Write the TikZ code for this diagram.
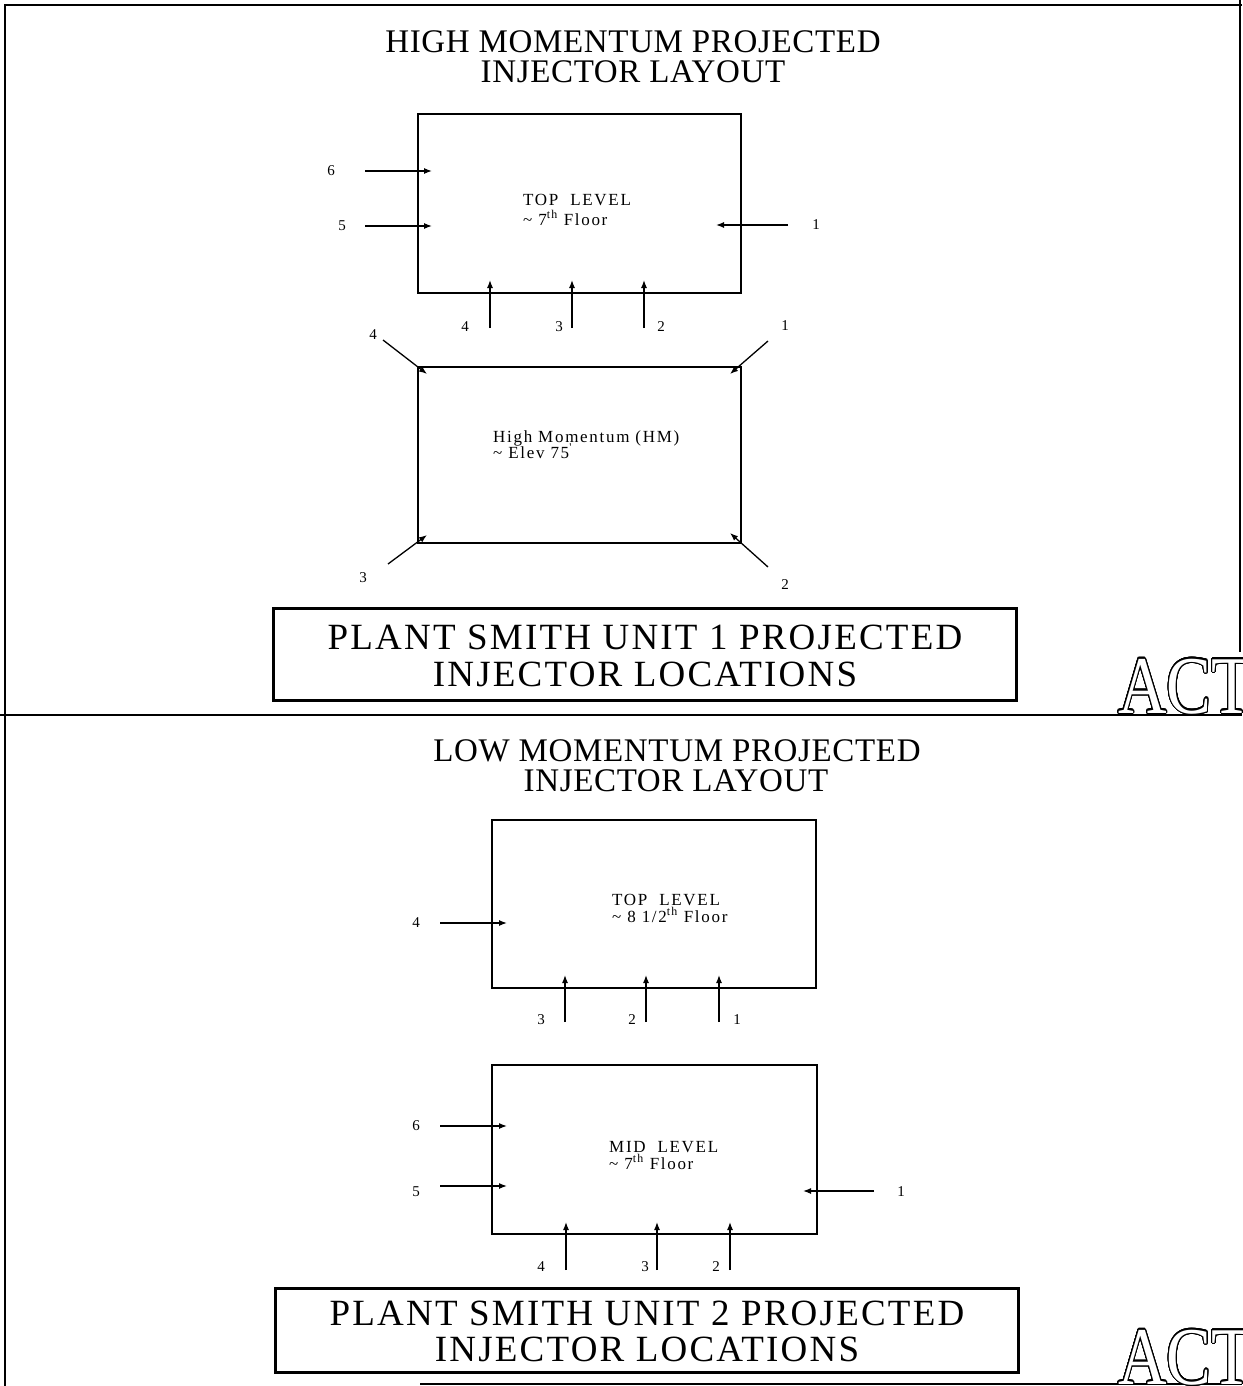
\documentclass[tikz,border=0pt]{standalone}
\usepackage{fontspec}
\setmainfont{Liberation Serif}
\newfontfamily\ttlfont[LetterSpace=2]{Liberation Serif}
\newfontfamily\bigfont[LetterSpace=6]{Liberation Serif}
\newfontfamily\inbox[LetterSpace=10]{Liberation Serif}
\usepackage{contour}
\contourlength{1.1pt}
\contournumber{32}
\usetikzlibrary{arrows.meta}
\begin{document}
\begin{tikzpicture}[x=1pt,y=-1pt,
  frameline/.style={line width=1.6pt},
  levelbox/.style={draw,line width=1.5pt,inner sep=0pt,outer sep=0pt},
  titlebox/.style={draw,line width=3pt,inner sep=0pt,outer sep=0pt,minimum width=743pt},
  ttl/.style={anchor=base,inner sep=0pt,font=\ttlfont\fontsize{33}{36}\selectfont},
  big/.style={anchor=base,inner sep=0pt,font=\bigfont\fontsize{37}{40}\selectfont},
  inner/.style={anchor=base west,inner sep=0pt,font=\inbox\fontsize{17}{19}\selectfont},
  num/.style={inner sep=0pt,font=\fontsize{15}{17}\selectfont},
  arr/.style={line width=1.3pt,-{Latex[length=8pt,width=6pt]}},
  logo/.style={anchor=base west,inner sep=0pt,xscale=0.82,font=\fontsize{82}{86}\selectfont}
]
\useasboundingbox (0,0) rectangle (1242,1386);
\fill[white] (0,0) rectangle (1242,1386);
% frame
\coordinate (fTL) at (5,5);
\coordinate (fTR) at (1242,5);
\coordinate (fBL) at (5,1386);
\coordinate (rT) at (1240,0);
\coordinate (rB) at (1240,652);
\coordinate (dL) at (0,715);
\coordinate (dR) at (1242,715);
\coordinate (bL) at (420,1384);
\coordinate (bR) at (1242,1384);
\draw[frameline] (fTR) -- (fTL) -- (fBL);
\draw[frameline] (rT) -- (rB);
\draw[frameline] (dL) -- (dR);
\draw[frameline] (bL) -- (bR);

% ================= TOP PANEL =================
\node[ttl] (t1a) at (633,53) {HIGH MOMENTUM PROJECTED};
\node[ttl] (t1b) at (633,83) {INJECTOR LAYOUT};

\node[levelbox,minimum width=323pt,minimum height=179pt] (b1) at (579.5,203.5) {};
\node[inner] (b1t) at (523,205) {TOP\ \ LEVEL};
\node[inner] (b1f) at (523,225) {\textasciitilde\ 7\textsuperscript{th} Floor};

\node[num] (n16) at (331,171) {6};
\node[num] (n15) at (342,226) {5};
\node[num] (n11) at (816,225) {1};
\node[num] (n14) at (465,327) {4};
\node[num] (n13) at (559,327) {3};
\node[num] (n12) at (661,327) {2};
\coordinate (a16s) at (365,171); \coordinate (a16e) at (432,171);
\coordinate (a15s) at (365,226); \coordinate (a15e) at (432,226);
\coordinate (a11s) at (788,225); \coordinate (a11e) at (716,225);
\coordinate (a14s) at (490,328); \coordinate (a14e) at (490,280);
\coordinate (a13s) at (572,328); \coordinate (a13e) at (572,280);
\coordinate (a12s) at (644,328); \coordinate (a12e) at (644,280);
\foreach \i in {16,15,11,14,13,12} \draw[arr] (a\i s) -- (a\i e);

\node[levelbox,minimum width=323pt,minimum height=176pt] (b2) at (579.5,455) {};
\node[inner] (b2t) at (493,442) {High Momentum (HM)};
\node[inner] (b2f) at (493,458) {\textasciitilde\ Elev 75\textsuperscript{'}};

\node[num] (n24) at (373,335) {4};
\node[num] (n21) at (785,326) {1};
\node[num] (n23) at (363,578) {3};
\node[num] (n22) at (785,585) {2};
\coordinate (a24s) at (383,340); \coordinate (a24e) at (427,374);
\coordinate (a21s) at (768,341); \coordinate (a21e) at (730,374);
\coordinate (a23s) at (388,564); \coordinate (a23e) at (427,535);
\coordinate (a22s) at (768,567); \coordinate (a22e) at (730,533);
\foreach \i in {24,21,23,22} \draw[arr] (a\i s) -- (a\i e);

\node[titlebox,minimum height=92pt] (tb1) at (644.5,654) {};
\node[big] (tb1a) at (645,649) {PLANT SMITH UNIT 1 PROJECTED};
\node[big] (tb1b) at (645,686) {INJECTOR LOCATIONS};

\begin{scope}
\clip (0,0) rectangle (1242,1386);
\node[logo] (act1) at (1118,713) {\contour{black}{\textcolor{white}{ACT}}};
\node[logo] (act2) at (1118,1384) {\contour{black}{\textcolor{white}{ACT}}};
\end{scope}

% ================= BOTTOM PANEL =================
\node[ttl] (t2a) at (677,761) {LOW MOMENTUM PROJECTED};
\node[ttl] (t2b) at (676,791) {INJECTOR LAYOUT};

\node[levelbox,minimum width=324pt,minimum height=168pt] (b3) at (654,904) {};
\node[inner] (b3t) at (612,905) {TOP\ \ LEVEL};
\node[inner] (b3f) at (612,922) {\textasciitilde\ 8 1/2\textsuperscript{th} Floor};

\node[num] (n34) at (416,923) {4};
\node[num] (n33) at (541,1020) {3};
\node[num] (n32) at (632,1020) {2};
\node[num] (n31) at (737,1020) {1};
\coordinate (a34s) at (440,923); \coordinate (a34e) at (507,923);
\coordinate (a33s) at (565,1022); \coordinate (a33e) at (565,975);
\coordinate (a32s) at (646,1022); \coordinate (a32e) at (646,975);
\coordinate (a31s) at (719,1022); \coordinate (a31e) at (719,975);
\foreach \i in {34,33,32,31} \draw[arr] (a\i s) -- (a\i e);

\node[levelbox,minimum width=325pt,minimum height=169pt] (b4) at (654.5,1149.5) {};
\node[inner] (b4t) at (609,1152) {MID\ \ LEVEL};
\node[inner] (b4f) at (609,1169) {\textasciitilde\ 7\textsuperscript{th} Floor};

\node[num] (n46) at (416,1126) {6};
\node[num] (n45) at (416,1192) {5};
\node[num] (n41) at (901,1192) {1};
\node[num] (n44) at (541,1267) {4};
\node[num] (n43) at (645,1267) {3};
\node[num] (n42) at (716,1267) {2};
\coordinate (a46s) at (440,1126); \coordinate (a46e) at (507,1126);
\coordinate (a45s) at (440,1186); \coordinate (a45e) at (507,1186);
\coordinate (a41s) at (874,1191); \coordinate (a41e) at (803,1191);
\coordinate (a44s) at (566,1270); \coordinate (a44e) at (566,1222);
\coordinate (a43s) at (657,1270); \coordinate (a43e) at (657,1222);
\coordinate (a42s) at (730,1270); \coordinate (a42e) at (730,1222);
\foreach \i in {46,45,41,44,43,42} \draw[arr] (a\i s) -- (a\i e);

\node[titlebox,minimum height=84pt] (tb2) at (646.5,1330) {};
\node[big] (tb2a) at (647,1325) {PLANT SMITH UNIT 2 PROJECTED};
\node[big] (tb2b) at (647,1361) {INJECTOR LOCATIONS};
\end{tikzpicture}
\end{document}
